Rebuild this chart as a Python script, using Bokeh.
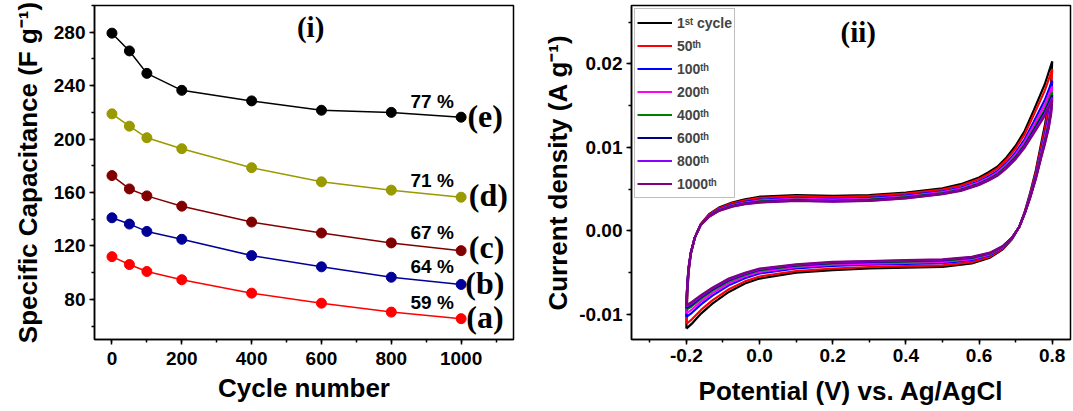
from bokeh.plotting import figure
from bokeh.models import SingleIntervalTicker, NumeralTickFormatter, Legend, LegendItem, Range1d
from bokeh.layouts import row
from bokeh.core.properties import value
from bokeh.embed import file_html
from bokeh.resources import INLINE

# ---------------- panel (i): capacitance retention ----------------
cycles = [0, 50, 100, 200, 400, 600, 800, 1000]
cap_a = [112.0, 106.1, 100.9, 94.7, 84.7, 77.2, 70.5, 65.6]
cap_b = [141.1, 136.4, 130.9, 125.0, 112.8, 104.4, 96.6, 91.2]
cap_c = [172.7, 162.7, 157.5, 149.8, 137.9, 129.7, 122.3, 116.5]
cap_d = [218.9, 209.7, 201.0, 192.8, 178.6, 168.0, 161.8, 156.5]
cap_e = [279.3, 266.0, 249.2, 236.5, 228.6, 221.6, 220.0, 216.4]
series_colors = ["#FF0000", "#000099", "#800000", "#999900", "#000000"]

retention_text = ["59 %", "64 %", "67 %", "71 %", "77 %"]
retention_x = [917, 917, 917, 917, 917]
retention_y = [77.8, 104.3, 129.8, 169.0, 228.5]
tag_text = ["(a)", "(b)", "(c)", "(d)", "(e)"]
tag_x = [1015, 1012, 1022, 1022, 1018]
tag_y = [66.6, 92.0, 119.4, 158.3, 217.0]

# ---------------- panel (ii): cyclic voltammograms ----------------
potential_up = [-0.2, -0.199, -0.197, -0.194, -0.188, -0.177, -0.161, -0.138, -0.111, -0.075,
                -0.04, 0.0, 0.1, 0.2, 0.3, 0.4, 0.5, 0.55, 0.6, 0.625, 0.65, 0.675, 0.7, 0.725,
                0.75, 0.78, 0.8]
potential_down = [0.797, 0.79, 0.78, 0.77, 0.755, 0.74, 0.725, 0.71, 0.69, 0.665, 0.63, 0.58,
                  0.5, 0.4, 0.3, 0.2, 0.1, 0.0, -0.04, -0.084, -0.129, -0.16, -0.185, -0.2]
cycle_labels = ["1\u02e2\u1d57 cycle", "50\u1d57\u02b0", "100\u1d57\u02b0", "200\u1d57\u02b0",
                "400\u1d57\u02b0", "600\u1d57\u02b0", "800\u1d57\u02b0", "1000\u1d57\u02b0"]
cycle_colors = ["#000000", "#FF0000", "#0000FF", "#FF00FF", "#008000", "#000080", "#8B00FF", "#800080"]

# current density in units of 1e-4 A g^-1 (anodic sweep followed by cathodic sweep)
cd_1 = [-117, -95, -72, -50, -28, -8, 8, 20, 28, 34, 38, 41, 43, 42, 43, 46, 51, 56, 64, 70, 77, 88, 102, 120, 145, 176, 203,
        178, 152, 127, 105, 72, 46, 23, 5, -10, -22, -32, -39, -43, -44, -45, -47, -50, -57, -63, -73, -87, -99, -111, -117]
cd_50 = [-111.4, -91, -69.6, -48.8, -27.6, -8, 7.8, 19.4, 27.2, 33, 36.8, 39.6, 41.6, 40.6, 41.6, 44.6, 49.6, 54.4, 62.2, 68, 74.8, 85.4, 98.8, 116, 139.4, 168.4, 193.8,
         170.4, 146, 122.4, 101.6, 70, 44.8, 22.6, 5, -9.6, -21.2, -30.8, -37.4, -41.2, -42.2, -43.2, -45, -48, -54.6, -60.4, -69.8, -83.2, -94.6, -105.8, -111.4]
cd_100 = [-103, -85, -66, -47, -27, -8, 7.5, 18.5, 26, 31.5, 35, 37.5, 39.5, 38.5, 39.5, 42.5, 47.5, 52, 59.5, 65, 71.5, 81.5, 94, 110, 131, 157, 180,
          159, 137, 115.5, 96.5, 67, 43, 22, 5, -9, -20, -29, -35, -38.5, -39.5, -40.5, -42, -45, -51, -56.5, -65, -77.5, -88, -98, -103]
cd_200 = [-98.8, -82, -64.2, -46.1, -26.7, -8, 7.4, 18.1, 25.4, 30.8, 34.1, 36.5, 38.5, 37.5, 38.5, 41.5, 46.5, 50.8, 58.2, 63.5, 69.9, 79.6, 91.6, 107, 126.8, 151.3, 173.1,
          153.3, 132.5, 112.1, 94.0, 65.5, 42.1, 21.7, 5, -8.7, -19.4, -28.1, -33.8, -37.2, -38.2, -39.2, -40.5, -43.5, -49.2, -54.6, -62.6, -74.7, -84.7, -94.1, -98.8]
cd_400 = [-94.6, -79, -62.4, -45.2, -26.4, -8, 7.2, 17.6, 24.8, 30, 33.2, 35.4, 37.4, 36.4, 37.4, 40.4, 45.4, 49.6, 56.8, 62, 68.2, 77.6, 89.2, 104, 122.6, 145.6, 166.2,
          147.6, 128, 108.6, 91.4, 64, 41.2, 21.4, 5, -8.4, -18.8, -27.2, -32.6, -35.8, -36.8, -37.8, -39, -42, -47.4, -52.6, -60.2, -71.8, -81.4, -90.2, -94.6]
cd_600 = [-92.4, -77.4, -61.4, -44.7, -26.2, -8, 7.1, 17.4, 24.5, 29.6, 32.7, 34.8, 36.8, 35.8, 36.8, 39.8, 44.8, 49.0, 56.1, 61.2, 67.3, 76.6, 87.9, 102.4, 120.4, 142.6, 162.5,
          144.6, 125.6, 106.8, 90.0, 63.2, 40.7, 21.2, 5, -8.2, -18.5, -26.7, -32.0, -35.1, -36.1, -37.1, -38.2, -41.2, -46.4, -51.6, -58.9, -70.3, -79.6, -88.1, -92.4]
cd_800 = [-90.7, -76.2, -60.7, -44.4, -26.1, -8, 7.1, 17.2, 24.2, 29.3, 32.4, 34.4, 36.4, 35.4, 36.4, 39.4, 44.4, 48.5, 55.5, 60.6, 66.7, 75.8, 87.0, 101.2, 118.7, 140.3, 159.8,
          142.3, 123.8, 105.4, 89.0, 62.6, 40.4, 21.1, 5, -8.1, -18.2, -26.4, -31.5, -34.5, -35.5, -36.5, -37.6, -40.6, -45.7, -50.8, -58.0, -69.1, -78.3, -86.6, -90.7]
cd_1000 = [-89, -75, -60, -44, -26, -8, 7, 17, 24, 29, 32, 34, 36, 35, 36, 39, 44, 48, 55, 60, 66, 75, 86, 100, 117, 138, 157,
           140, 122, 104, 88, 62, 40, 21, 5, -8, -18, -26, -31, -34, -35, -36, -37, -40, -45, -50, -57, -68, -77, -85, -89]

panel_tag_i = ["(i)"]
panel_tag_i_x = [569]
panel_tag_i_y = [283.6]
panel_tag_ii = ["(ii)"]
panel_tag_ii_x = [0.27]
panel_tag_ii_y = [0.0238]

SANS = "Liberation Sans"
SERIF = "Liberation Serif"


def style_axes(p):
    p.grid.visible = False
    p.outline_line_color = "black"
    p.outline_line_width = 1.5
    p.outline_line_alpha = 1.0
    p.background_fill_color = "white"
    p.border_fill_color = "white"
    for ax in list(p.xaxis) + list(p.yaxis):
        ax.axis_line_width = 1.5
        ax.major_tick_line_width = 1.5
        ax.minor_tick_line_width = 1.5
        ax.major_tick_out = 5
        ax.major_tick_in = 0
        ax.minor_tick_out = 3
        ax.minor_tick_in = 0
        ax.major_label_text_font = SANS
        ax.major_label_text_font_style = "bold"
        ax.major_label_text_font_size = "19px"
        ax.major_label_text_color = "black"
        ax.major_label_standoff = 4
        ax.axis_label_text_font = SANS
        ax.axis_label_text_font_style = "bold"
        ax.axis_label_text_font_size = "26px"
        ax.axis_label_text_color = "black"
        ax.axis_label_standoff = 3


# ---------------- left figure ----------------
p1 = figure(width=540, height=411, output_backend="svg", toolbar_location=None,
            x_range=Range1d(-50, 1150), y_range=Range1d(50, 300),
            min_border_left=94, min_border_right=27, min_border_top=4, min_border_bottom=71)
p1.xaxis.ticker = SingleIntervalTicker(interval=200, num_minor_ticks=2)
p1.yaxis.ticker = SingleIntervalTicker(interval=40, num_minor_ticks=2)
p1.xaxis.axis_label = "Cycle number"
p1.yaxis.axis_label = "Specific Capacitance (F g\u207b\u00b9)"
style_axes(p1)
p1.yaxis.axis_label_standoff = 8
p1.xaxis.major_label_standoff = 7
p1.xaxis.axis_label_standoff = 5

for ys, col in zip([cap_a, cap_b, cap_c, cap_d, cap_e], series_colors):
    p1.line(cycles, ys, line_color=col, line_width=1.5)
    p1.scatter(cycles, ys, size=10, fill_color=col, line_color=col)

p1.text(x=retention_x, y=retention_y, text=retention_text, text_font=value(SANS),
        text_font_style="bold", text_font_size="19px", text_align="center",
        text_baseline="middle", text_color="black")
p1.text(x=tag_x, y=tag_y, text=tag_text, text_font=value(SERIF),
        text_font_style="bold", text_font_size="32px", text_align="left",
        text_baseline="middle", text_color="black")
p1.text(x=panel_tag_i_x, y=panel_tag_i_y, text=panel_tag_i, text_font=value(SERIF),
        text_font_style="bold", text_font_size="29px", text_align="center",
        text_baseline="middle", text_color="black")

# ---------------- right figure ----------------
p2 = figure(width=532, height=411, output_backend="svg", toolbar_location=None,
            x_range=Range1d(-0.35, 0.85), y_range=Range1d(-0.013, 0.027),
            min_border_left=88, min_border_right=2, min_border_top=5, min_border_bottom=72)
p2.xaxis.ticker = SingleIntervalTicker(interval=0.2, num_minor_ticks=2)
p2.yaxis.ticker = SingleIntervalTicker(interval=0.01, num_minor_ticks=2)
p2.xaxis.formatter = NumeralTickFormatter(format="0.0")
p2.yaxis.formatter = NumeralTickFormatter(format="0.00")
p2.xaxis.axis_label = "Potential (V) vs. Ag/AgCl"
p2.yaxis.axis_label = "Current density (A g\u207b\u00b9)"
style_axes(p2)
p2.xaxis.axis_label_standoff = 11

potential_loop = potential_up + potential_down
items = []
for cd, col, lab in zip([cd_1, cd_50, cd_100, cd_200, cd_400, cd_600, cd_800, cd_1000],
                        cycle_colors, cycle_labels):
    j = [c * 1e-4 for c in cd]
    r = p2.line(potential_loop, j, line_color=col, line_width=2.2)
    items.append(LegendItem(label=lab, renderers=[r]))

legend = Legend(items=items, location="top_left", margin=3, padding=2, spacing=0,
                label_height=23, glyph_height=23, glyph_width=35, label_standoff=5,
                border_line_color="#808080", border_line_width=1,
                label_text_font=SANS, label_text_font_style="bold",
                label_text_font_size="14px", background_fill_alpha=1.0)
p2.add_layout(legend)

p2.text(x=panel_tag_ii_x, y=panel_tag_ii_y, text=panel_tag_ii, text_font=value(SERIF),
        text_font_style="bold", text_font_size="29px", text_align="center",
        text_baseline="middle", text_color="black")

layout = row(p1, p2)
open("out.html", "w").write(file_html(layout, INLINE))
